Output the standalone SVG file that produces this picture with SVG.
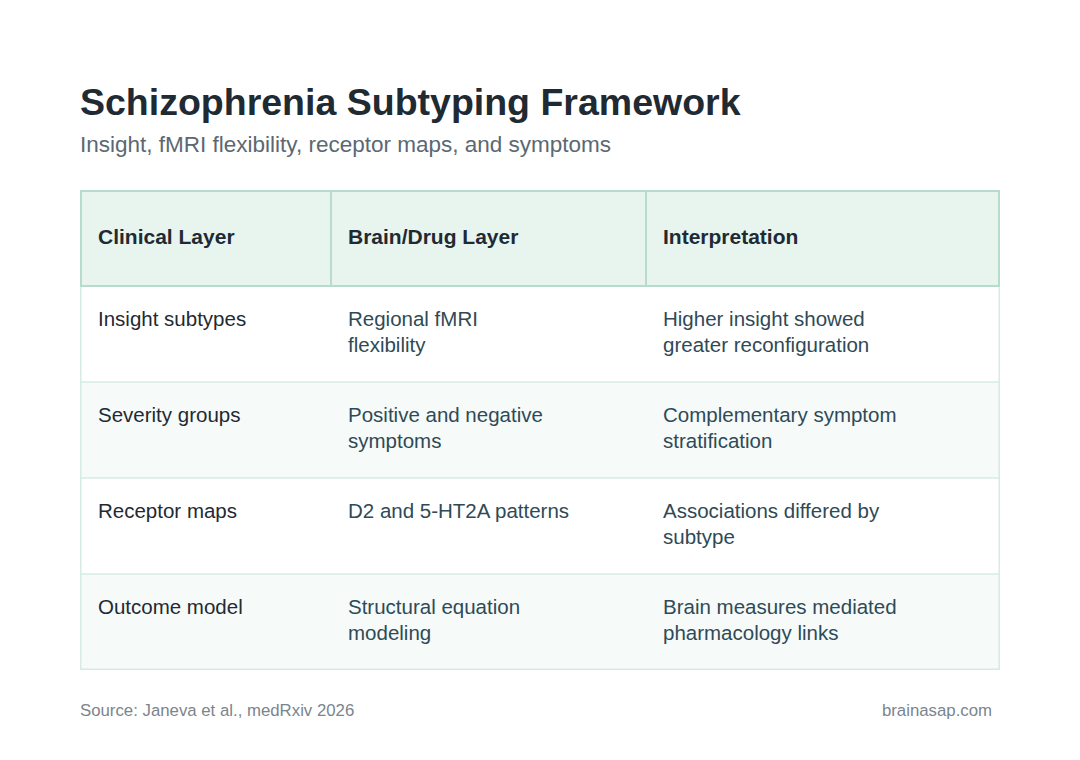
<svg xmlns="http://www.w3.org/2000/svg" width="1080" height="760" viewBox="0 0 1080 760">
<style>
text{font-family:"Liberation Sans",Arial,sans-serif}
.h{font-size:21px;font-weight:bold;fill:#1f2a33}
.c1{font-size:20.5px;fill:#1f2a33}
.c{font-size:20.5px;fill:#2f4a56}
.sep{stroke:#d6ebe3;stroke-width:1.5}
</style>
<rect width="1080" height="760" fill="#ffffff"/>
<text x="80" y="115" font-size="37.5" font-weight="bold" fill="#1f2a33">Schizophrenia Subtyping Framework</text>
<text x="80" y="152" font-size="22.5" fill="#5b6872">Insight, fMRI flexibility, receptor maps, and symptoms</text>
<g id="table">
<rect x="80" y="382" width="920" height="96" fill="#f6faf9"/>
<rect x="80" y="574" width="920" height="96" fill="#f6faf9"/>
<rect x="80.75" y="286" width="918.5" height="383.25" fill="none" class="sep"/>
<line x1="80" y1="382" x2="1000" y2="382" class="sep"/>
<line x1="80" y1="478" x2="1000" y2="478" class="sep"/>
<line x1="80" y1="574" x2="1000" y2="574" class="sep"/>
<rect x="81" y="191" width="918" height="95" fill="#e8f5ee" stroke="#b8dccb" stroke-width="2"/>
<line x1="331" y1="191" x2="331" y2="286" stroke="#b8dccb" stroke-width="2"/>
<line x1="646" y1="191" x2="646" y2="286" stroke="#b8dccb" stroke-width="2"/>
</g>
<g id="header">
<text x="98" y="244" class="h">Clinical Layer</text>
<text x="348" y="244" class="h">Brain/Drug Layer</text>
<text x="663" y="244" class="h">Interpretation</text>
</g>
<g id="row1">
<text x="98" y="326" class="c1">Insight subtypes</text>
<text x="348" y="326" class="c">Regional fMRI</text>
<text x="348" y="352" class="c">flexibility</text>
<text x="663" y="326" class="c">Higher insight showed</text>
<text x="663" y="352" class="c">greater reconfiguration</text>
</g>
<g id="row2">
<text x="98" y="422" class="c1">Severity groups</text>
<text x="348" y="422" class="c">Positive and negative</text>
<text x="348" y="448" class="c">symptoms</text>
<text x="663" y="422" class="c">Complementary symptom</text>
<text x="663" y="448" class="c">stratification</text>
</g>
<g id="row3">
<text x="98" y="518" class="c1">Receptor maps</text>
<text x="348" y="518" class="c">D2 and 5-HT2A patterns</text>
<text x="663" y="518" class="c">Associations differed by</text>
<text x="663" y="544" class="c">subtype</text>
</g>
<g id="row4">
<text x="98" y="614" class="c1">Outcome model</text>
<text x="348" y="614" class="c">Structural equation</text>
<text x="348" y="640" class="c">modeling</text>
<text x="663" y="614" class="c">Brain measures mediated</text>
<text x="663" y="640" class="c">pharmacology links</text>
</g>
<text x="80" y="716" font-size="16.8" fill="#7a858d">Source: Janeva et al., medRxiv 2026</text>
<text x="992" y="716" font-size="16.8" fill="#7a858d" text-anchor="end">brainasap.com</text>
</svg>
